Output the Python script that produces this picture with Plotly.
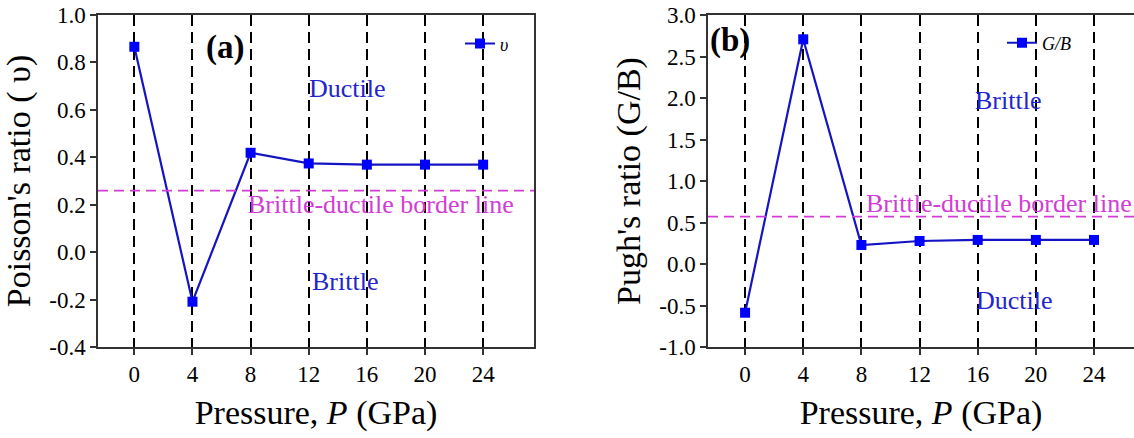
import plotly.graph_objects as go

# ---- data ----
pressure = [0, 4, 8, 12, 16, 20, 24]
poisson = [0.866, -0.209, 0.419, 0.374, 0.369, 0.369, 0.369]
pugh = [-0.587, 2.707, 0.229, 0.277, 0.290, 0.290, 0.290]
poisson_border = 0.259
pugh_border = 0.570

x_ticks = [0, 4, 8, 12, 16, 20, 24]
x_ticklabels = ["0", "4", "8", "12", "16", "20", "24"]
ya_ticks = [-0.4, -0.2, 0.0, 0.2, 0.4, 0.6, 0.8, 1.0]
ya_ticklabels = ["-0.4", "-0.2", "0.0", "0.2", "0.4", "0.6", "0.8", "1.0"]
yb_ticks = [-1.0, -0.5, 0.0, 0.5, 1.0, 1.5, 2.0, 2.5, 3.0]
yb_ticklabels = ["-1.0", "-0.5", "0.0", "0.5", "1.0", "1.5", "2.0", "2.5", "3.0"]

FONT = "Liberation Serif, Times New Roman, serif"
LINE_C = "#1414c4"
MARK_C = "#0000ff"
TXT_C = "#2424cc"
MAG = "#d23cd6"

fig = go.Figure()

fig.add_trace(go.Scatter(
    x=pressure, y=poisson, mode="lines+markers", name="<i>υ</i>",
    line=dict(color=LINE_C, width=2.2),
    marker=dict(symbol="square", size=10, color=MARK_C),
    xaxis="x", yaxis="y", legend="legend"))

fig.add_trace(go.Scatter(
    x=pressure, y=pugh, mode="lines+markers", name="<i>G/B</i>",
    line=dict(color=LINE_C, width=2.2),
    marker=dict(symbol="square", size=10, color=MARK_C),
    xaxis="x2", yaxis="y2", legend="legend2"))

# border lines
fig.add_shape(type="line", xref="x domain", yref="y", x0=0, x1=1,
              y0=poisson_border, y1=poisson_border,
              line=dict(color=MAG, width=1.8, dash="10px,6px"))
fig.add_shape(type="line", xref="x2 domain", yref="y2", x0=0, x1=1,
              y0=pugh_border, y1=pugh_border,
              line=dict(color=MAG, width=1.8, dash="10px,6px"))

fig.update_layout(
    width=1134, height=438,
    margin=dict(l=0, r=0, t=15, b=91),
    paper_bgcolor="white", plot_bgcolor="white",
    font=dict(family=FONT, size=23, color="black"),
    xaxis=dict(domain=[98/1134, 534/1134], range=[-2.5, 27.5], anchor="y", mirror=True),
    yaxis=dict(domain=[0, 1], range=[-0.4, 1.0], anchor="x", mirror=True,
               tickvals=ya_ticks, ticktext=ya_ticklabels,
               title=dict(text="Poisson's ratio ( υ)", standoff=10,
                          font=dict(family=FONT, size=34, color="black"))),
    xaxis2=dict(domain=[708/1134, 1.0], range=[-2.55, 26.75], anchor="y2", mirror=True),
    yaxis2=dict(domain=[0, 1], range=[-1.0, 3.0], anchor="x2", mirror=False,
                tickvals=yb_ticks, ticktext=yb_ticklabels,
                title=dict(text="Pugh's ratio (G/B)", standoff=8,
                           font=dict(family=FONT, size=34, color="black"))),
    legend=dict(x=460/1134, y=1 - 38/438, xanchor="left", yanchor="middle",
                bgcolor="rgba(0,0,0,0)", borderwidth=0, itemwidth=30,
                font=dict(family=FONT, size=18, color="black")),
    legend2=dict(x=1002/1134, y=1 - 37/438, xanchor="left", yanchor="middle",
                 bgcolor="rgba(0,0,0,0)", borderwidth=0, itemwidth=30,
                 font=dict(family=FONT, size=18, color="black")),
    showlegend=True,
)

fig.update_xaxes(
    showline=True, linecolor="#333333", linewidth=1.5,
    ticks="outside", ticklen=6, tickwidth=1.5, tickcolor="#333333",
    tickfont=dict(family=FONT, size=23, color="black"),
    zeroline=False,
    tickvals=x_ticks, ticktext=x_ticklabels,
    showgrid=True, gridcolor="black", gridwidth=1.8, griddash="11px,6px",
    title=dict(text="Pressure, <i>P</i> (GPa)",
               font=dict(family=FONT, size=34, color="black"), standoff=14))
fig.update_yaxes(
    showline=True, linecolor="#333333", linewidth=1.5,
    ticks="outside", ticklen=6, tickwidth=1.5, tickcolor="#333333",
    tickfont=dict(family=FONT, size=23, color="black"),
    zeroline=False, showgrid=False)

ann = [
    dict(text="<b>(a)</b>", x=6.26, y=0.861, xref="x", yref="y",
         font=dict(family=FONT, size=33, color="black")),
    dict(text="Ductile", x=14.7, y=0.692, xref="x", yref="y",
         font=dict(family=FONT, size=26, color=TXT_C)),
    dict(text="Brittle-ductile border line", x=17.0, y=0.203, xref="x", yref="y",
         font=dict(family=FONT, size=26, color=MAG)),
    dict(text="Brittle", x=14.5, y=-0.122, xref="x", yref="y",
         font=dict(family=FONT, size=26, color=TXT_C)),
    dict(text="<b>(b)</b>", x=-1.03, y=2.687, xref="x2", yref="y2",
         font=dict(family=FONT, size=33, color="black")),
    dict(text="Brittle", x=18.07, y=1.964, xref="x2", yref="y2",
         font=dict(family=FONT, size=26, color=TXT_C)),
    dict(text="Brittle-ductile border line", x=17.45, y=0.723, xref="x2", yref="y2",
         font=dict(family=FONT, size=26, color=MAG)),
    dict(text="Ductile", x=18.55, y=-0.434, xref="x2", yref="y2",
         font=dict(family=FONT, size=26, color=TXT_C)),
]
for a in ann:
    a.update(showarrow=False, xanchor="center", yanchor="middle")
fig.update_layout(annotations=ann)

fig.write_html("out.html")
